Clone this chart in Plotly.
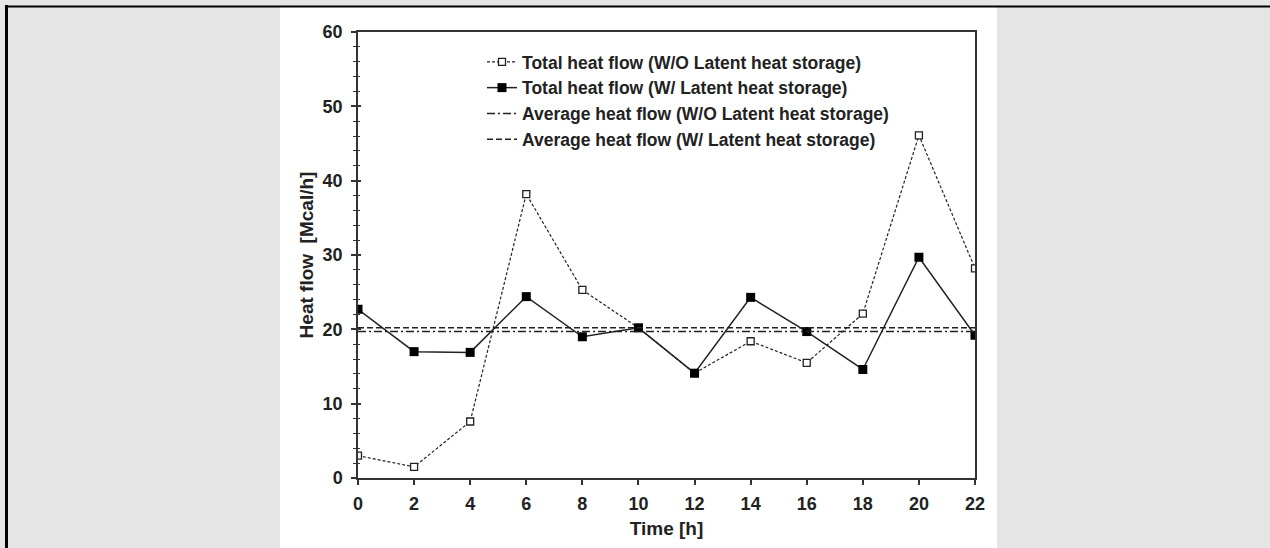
import plotly.graph_objects as go

hours = [0, 2, 4, 6, 8, 10, 12, 14, 16, 18, 20, 22]
flow_without = [3.0, 1.5, 7.6, 38.2, 25.3, 20.2, 14.1, 18.4, 15.5, 22.1, 46.1, 28.2]
flow_with = [22.7, 17.0, 16.9, 24.4, 19.0, 20.2, 14.1, 24.3, 19.7, 14.6, 29.7, 19.2]
avg_without = 19.7
avg_with = 20.2
names = [
    "Total heat flow (W/O Latent heat storage)",
    "Total heat flow (W/ Latent heat storage)",
    "Average heat flow (W/O Latent heat storage)",
    "Average heat flow (W/ Latent heat storage)",
]
x_ticks = list(range(0, 23, 2))

W, H = 1270, 548
L, R, T, B = 358, 975, 32, 478
FONT = "Liberation Sans, Arial, sans-serif"
INK = "#222222"

def px(x):
    return (x - L) / (R - L)

def py(y):
    return (B - y) / (B - T)

fig = go.Figure()
fig.add_trace(go.Scatter(
    x=hours, y=flow_without, name=names[0], mode="lines+markers",
    line=dict(color=INK, width=1.2, dash="3px,2px"),
    marker=dict(symbol="square", size=7, color="white", line=dict(color=INK, width=1.3)),
))
fig.add_trace(go.Scatter(
    x=hours, y=flow_with, name=names[1], mode="lines+markers",
    line=dict(color=INK, width=1.5),
    marker=dict(symbol="square", size=9, color="black", line=dict(color="black", width=0)),
))
fig.add_trace(go.Scatter(
    x=[hours[0], hours[-1]], y=[avg_without, avg_without], name=names[2], mode="lines",
    line=dict(color=INK, width=1.5, dash="8px,3px,2px,3px"),
))
fig.add_trace(go.Scatter(
    x=[hours[0], hours[-1]], y=[avg_with, avg_with], name=names[3], mode="lines",
    line=dict(color=INK, width=1.5, dash="6px,3px"),
))
# helper axis to draw the inward half of the y ticks
fig.add_trace(go.Scatter(x=[hours[0]], y=[0], yaxis="y2", mode="markers",
                         marker=dict(opacity=0), showlegend=False, hoverinfo="skip"))

shapes = [
    dict(type="rect", xref="paper", yref="paper", x0=px(280), x1=px(997), y0=py(7), y1=py(W),
         fillcolor="white", line=dict(width=0), layer="below"),
    dict(type="line", xref="paper", yref="paper", x0=px(5), x1=px(1270), y0=py(6.5), y1=py(6.5),
         line=dict(color="black", width=2)),
    dict(type="line", xref="paper", yref="paper", x0=px(6.5), x1=px(6.5), y0=py(5), y1=py(H),
         line=dict(color="black", width=3)),
]

fig.update_layout(
    width=W, height=H,
    margin=dict(l=L, r=W - R, t=T, b=H - B),
    paper_bgcolor="#e5e5e5",
    plot_bgcolor="white",
    font=dict(family=FONT, color=INK),
    shapes=shapes,
    showlegend=True,
    legend=dict(
        x=px(482), y=py(44), xanchor="left", yanchor="top",
        bgcolor="rgba(0,0,0,0)", font=dict(family=FONT, size=17.5, color=INK, weight="bold"),
        tracegroupgap=0, itemwidth=30,
    ),
    xaxis=dict(
        range=[0, 22], tickvals=x_ticks, ticktext=[str(v) for v in x_ticks],
        showgrid=False, zeroline=False, showline=True, mirror=True,
        linecolor="#333333", linewidth=1.5,
        ticks="outside", ticklen=5, tickwidth=1.5, tickcolor="#333333",
        ticklabelstandoff=4,
        tickfont=dict(family=FONT, size=18, color=INK, weight="bold"),
        title=dict(text="Time [h]", font=dict(family=FONT, size=19, color=INK, weight="bold"), standoff=8),
    ),
    yaxis=dict(
        range=[0, 60], dtick=10,
        showgrid=False, zeroline=False, showline=True, mirror=True,
        linecolor="#333333", linewidth=1.5,
        ticks="outside", ticklen=5, tickwidth=1.5, tickcolor="#333333",
        minor=dict(dtick=2, ticks="outside", ticklen=3, tickwidth=1.2, tickcolor="#333333"),
        tickfont=dict(family=FONT, size=18, color=INK, weight="bold"),
        ticklabelstandoff=5,
        title=dict(text="Heat flow  [Mcal/h]", font=dict(family=FONT, size=19, color=INK, weight="bold"), standoff=4),
    ),
    yaxis2=dict(
        range=[0, 60], dtick=10, overlaying="y", side="left", anchor="x",
        showgrid=False, zeroline=False, showline=False, showticklabels=False,
        ticks="inside", ticklen=3, tickwidth=1.5, tickcolor="#333333",
        minor=dict(dtick=2, ticks="inside", ticklen=2, tickwidth=1.2, tickcolor="#333333"),
    ),
)

fig.write_html("out.html")
